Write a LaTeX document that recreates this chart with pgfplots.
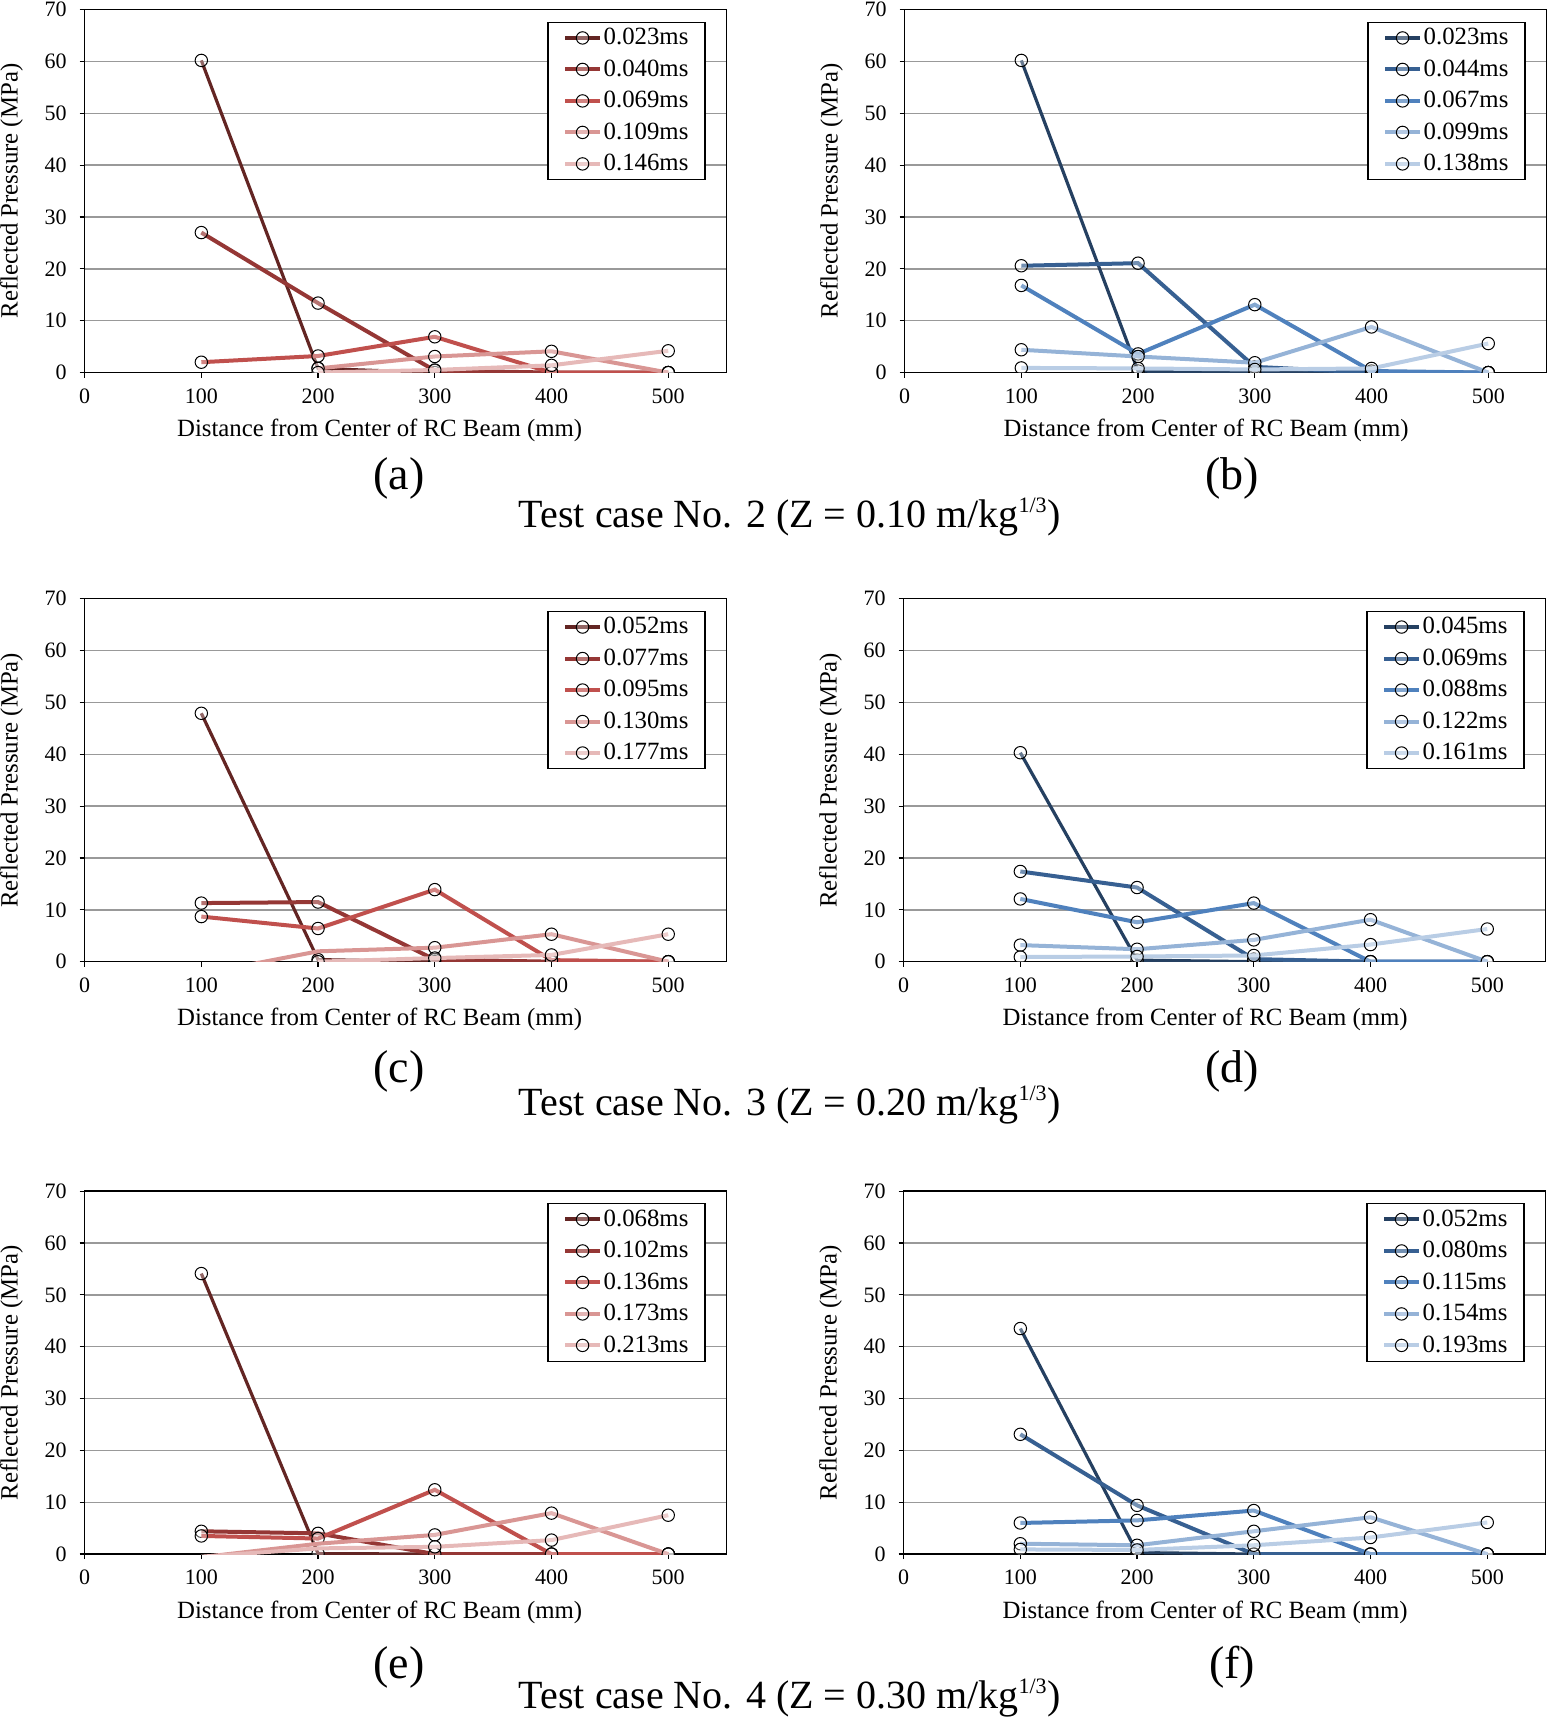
\documentclass[border=0pt]{standalone}
\usepackage{fontspec}
\setmainfont{Liberation Serif}
\usepackage{pgfplots}
\pgfplotsset{compat=1.18}
\definecolor{r1}{HTML}{632523}
\definecolor{r2}{HTML}{953735}
\definecolor{r3}{HTML}{C0504D}
\definecolor{r4}{HTML}{D99694}
\definecolor{r5}{HTML}{E6B9B8}
\definecolor{b1}{HTML}{254061}
\definecolor{b2}{HTML}{376092}
\definecolor{b3}{HTML}{4F81BD}
\definecolor{b4}{HTML}{95B3D7}
\definecolor{b5}{HTML}{B9CDE5}
\pgfplotsset{
 panel/.style={
  scale only axis, width=321pt, height=181.5pt,
  xmin=0,xmax=550,ymin=0,ymax=70,
  xtick={0,100,...,500}, ytick={0,10,...,70},
  tick align=outside, xtick pos=left, ytick pos=left,
  major tick length=2.5pt,
  every tick/.style={black, line width=0.6pt},
  ymajorgrids, grid style={gray!80, line width=0.7pt},
  axis line style={black, line width=0.8pt},
  tick label style={font=\fontsize{11}{13}\selectfont},
  /pgf/number format/assume math mode=true,
  yticklabel style={xshift=-3pt},
  xticklabel style={yshift=-2pt},
  xlabel={Distance from Center of RC Beam (mm)},
  ylabel={Reflected Pressure (MPa)},
  label style={font=\fontsize{12.4}{14}\selectfont},
  xlabel style={at={([xshift=-13pt,yshift=-29pt]axis description cs:0.5,0)}, anchor=center},
  ylabel style={at={([xshift=-36.5pt]axis description cs:0,0.5)}, anchor=center},
  clip marker paths=true,
  legend style={at={(1,1)}, anchor=north east, xshift=-10.5pt, yshift=-6pt,
    draw=black, line width=0.6pt, font=\fontsize{12.4}{14}\selectfont,
    inner xsep=7.5pt, inner ysep=1pt, row sep=2pt,
    nodes={inner xsep=0.8pt}, cells={anchor=west}},
  legend image code/.code={\draw[mark indices={2}, line width=2pt] plot coordinates {(0pt,0pt) (8.75pt,0pt) (17.5pt,0pt)};},
 },
 rpanel/.style={panel,
  xlabel style={at={([xshift=-9.7pt,yshift=-29pt]axis description cs:0.5,0)}, anchor=center}},
 s/.style={color=#1, line width=2pt, mark=*, mark size=3.1pt,
   mark options={draw=black, line width=0.5pt, fill=white, fill opacity=0.3}},
 s1/.style={s=#1, line width=1.6pt},
}
\begin{document}
\begin{tikzpicture}
\path[use as bounding box] (0pt,0pt) rectangle (776.5pt,861.5pt);
% (a)
\begin{axis}[panel, at={(42.3pt,675.2pt)}, anchor=south west,
  legend entries={0.023ms,0.040ms,0.069ms,0.109ms,0.146ms}]
\addplot[s1=r1] coordinates {(100,60.2)(200,0.8)(300,0)(400,0)(500,0)};
\addplot[s=r2] coordinates {(100,27)(200,13.4)(300,0.4)(400,0)(500,0)};
\addplot[s=r3] coordinates {(100,2.0)(200,3.2)(300,6.9)(400,0)(500,0)};
\addplot[s=r4] coordinates {(200,0.8)(300,3.1)(400,4.1)(500,0)};
\addplot[s=r5] coordinates {(200,0)(300,0.5)(400,1.4)(500,4.2)};
\end{axis}
% (b)
\begin{axis}[rpanel, at={(452.3pt,675.2pt)}, anchor=south west,
  legend entries={0.023ms,0.044ms,0.067ms,0.099ms,0.138ms}]
\addplot[s1=b1] coordinates {(100,60.2)(200,0.3)(300,0)(400,0)(500,0)};
\addplot[s=b2] coordinates {(100,20.6)(200,21.1)(300,1.1)(400,0)(500,0)};
\addplot[s=b3] coordinates {(100,16.8)(200,3.6)(300,13.1)(400,0.3)(500,0)};
\addplot[s=b4] coordinates {(100,4.4)(200,3.1)(300,1.9)(400,8.8)(500,0)};
\addplot[s=b5] coordinates {(100,0.9)(200,0.8)(300,0.6)(400,0.8)(500,5.6)};
\end{axis}
% (c)
\begin{axis}[panel, at={(42.3pt,380.65pt)}, anchor=south west,
  legend entries={0.052ms,0.077ms,0.095ms,0.130ms,0.177ms}]
\addplot[s1=r1] coordinates {(100,47.9)(200,0.4)(300,0)(400,0)(500,0)};
\addplot[s=r2] coordinates {(100,11.3)(200,11.5)(300,0.4)(400,0)(500,0)};
\addplot[s=r3] coordinates {(100,8.7)(200,6.4)(300,13.9)(400,0.3)(500,0)};
\addplot[s=r4, mark indices={2,3,4,5}] coordinates {(100,-2.35)(200,2.0)(300,2.7)(400,5.3)(500,0)};
\addplot[s=r5] coordinates {(200,0)(300,0.7)(400,1.3)(500,5.3)};
\end{axis}
% (d)
\begin{axis}[rpanel, at={(451.8pt,380.65pt)}, anchor=south west,
  legend entries={0.045ms,0.069ms,0.088ms,0.122ms,0.161ms}]
\addplot[s1=b1] coordinates {(100,40.3)(200,0.3)(300,0)(400,0)(500,0)};
\addplot[s=b2] coordinates {(100,17.4)(200,14.3)(300,0.5)(400,0)(500,0)};
\addplot[s=b3] coordinates {(100,12.1)(200,7.6)(300,11.3)(400,0)(500,0)};
\addplot[s=b4] coordinates {(100,3.2)(200,2.4)(300,4.2)(400,8.1)(500,0)};
\addplot[s=b5] coordinates {(100,0.9)(200,1.0)(300,1.2)(400,3.3)(500,6.3)};
\end{axis}
% (e)
\begin{axis}[panel, at={(42.3pt,84.45pt)}, anchor=south west,
  legend entries={0.068ms,0.102ms,0.136ms,0.173ms,0.213ms}]
\addplot[s1=r1] coordinates {(100,54.1)(200,0.1)(300,0)(400,0)(500,0)};
\addplot[s=r2] coordinates {(100,4.4)(200,4.0)(300,0)(400,0)(500,0)};
\addplot[s=r3] coordinates {(100,3.5)(200,3.0)(300,12.4)(400,0)(500,0)};
\addplot[s=r4, mark indices={2,3,4,5}] coordinates {(100,-0.6)(200,2.0)(300,3.7)(400,7.9)(500,0)};
\addplot[s=r5, mark indices={2,3,4,5}] coordinates {(100,-0.5)(200,1.1)(300,1.4)(400,2.7)(500,7.5)};
\end{axis}
% (f)
\begin{axis}[rpanel, at={(451.8pt,84.45pt)}, anchor=south west,
  legend entries={0.052ms,0.080ms,0.115ms,0.154ms,0.193ms}]
\addplot[s1=b1] coordinates {(100,43.5)(200,0.3)(300,0)(400,0)(500,0)};
\addplot[s=b2] coordinates {(100,23.1)(200,9.4)(300,0)(400,0)(500,0)};
\addplot[s=b3] coordinates {(100,6.0)(200,6.5)(300,8.4)(400,0)(500,0)};
\addplot[s=b4] coordinates {(100,2.0)(200,1.7)(300,4.4)(400,7.1)(500,0)};
\addplot[s=b5] coordinates {(100,0.9)(200,0.8)(300,1.7)(400,3.2)(500,6.1)};
\end{axis}
% captions
\begin{scope}[every node/.style={font=\fontsize{23}{27}\selectfont}]
\node at (199.5pt,622.45pt) {(a)};
\node at (616pt,622.45pt) {(b)};
\node at (199.5pt,325.7pt) {(c)};
\node at (616pt,325.7pt) {(d)};
\node at (199.5pt,27.85pt) {(e)};
\node at (616pt,27.85pt) {(f)};
\end{scope}
\begin{scope}[every node/.style={font=\fontsize{20}{24}\selectfont}]
\node at (395pt,603.2pt) {Test case No. 2 (Z = 0.10 m/kg\textsuperscript{\fontsize{11}{12}\selectfont 1/3})};
\node at (395pt,309.2pt) {Test case No. 3 (Z = 0.20 m/kg\textsuperscript{\fontsize{11}{12}\selectfont 1/3})};
\node at (395pt,12.5pt) {Test case No. 4 (Z = 0.30 m/kg\textsuperscript{\fontsize{11}{12}\selectfont 1/3})};
\end{scope}
\end{tikzpicture}
\end{document}
